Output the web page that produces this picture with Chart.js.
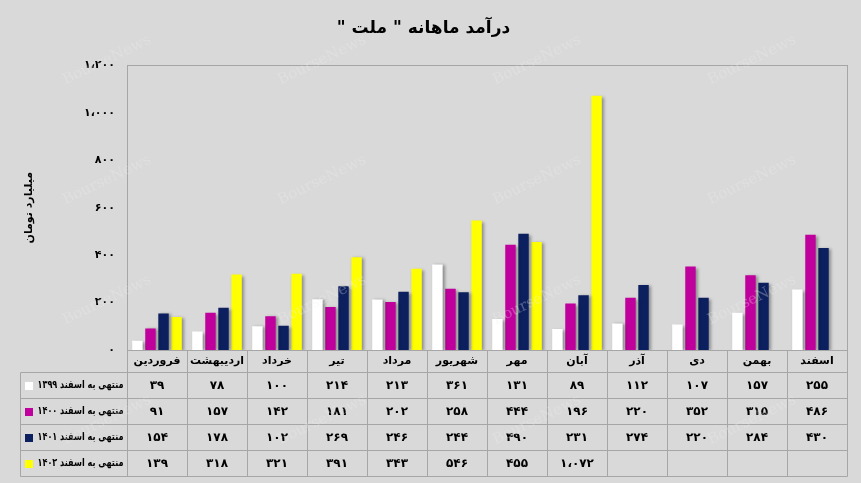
<!DOCTYPE html>
<html lang="fa">
<head>
<meta charset="utf-8">
<script src="https://cdn.jsdelivr.net/npm/chart.js@4.4.1/dist/chart.umd.min.js"></script>
<style>
  html, body { margin: 0; padding: 0; background: #d9d9d9; }
  #wrap { width: 861px; height: 483px; }
</style>
</head>
<body>
<div id="wrap"><canvas id="incomeChart" dir="rtl"></canvas></div>
<script>
// monthly income of Bank Mellat, billion tomans
const months = ['فروردین', 'اردیبهشت', 'خرداد', 'تیر', 'مرداد', 'شهریور', 'مهر', 'آبان', 'آذر', 'دی', 'بهمن', 'اسفند'];
const seriesNames = ['منتهی به اسفند ۱۳۹۹', 'منتهی به اسفند ۱۴۰۰', 'منتهی به اسفند ۱۴۰۱', 'منتهی به اسفند ۱۴۰۲'];
const values1399 = [39, 78, 100, 214, 213, 361, 131, 89, 112, 107, 157, 255];
const values1400 = [91, 157, 142, 181, 202, 258, 444, 196, 220, 352, 315, 486];
const values1401 = [154, 178, 102, 269, 246, 244, 490, 231, 274, 220, 284, 430];
const values1402 = [139, 318, 321, 391, 343, 546, 455, 1072, null, null, null, null];
const yTicks = [0, 200, 400, 600, 800, 1000, 1200];

const seriesValues = [values1399, values1400, values1401, values1402];
const seriesColors = ['#ffffff', '#c0009c', '#0c1f5e', '#ffff00'];
const FONT = '"DejaVu Sans", sans-serif';

const faDigits = '۰۱۲۳۴۵۶۷۸۹';
const toFa = (n) => {
  let s = String(n).replace(/\B(?=(\d{3})+(?!\d))/g, '،');
  return s.replace(/\d/g, d => faDigits[d]);
};

// soft shadow under the bars like the excel picture
const barShadow = {
  id: 'barShadow',
  beforeDatasetsDraw(chart) {
    const c = chart.ctx;
    c.save();
    c.shadowColor = 'rgba(0,0,0,0.35)';
    c.shadowBlur = 3;
    c.shadowOffsetX = 2;
    c.shadowOffsetY = 1;
  },
  afterDatasetsDraw(chart) {
    chart.ctx.restore();
  }
};

// data table under the plot (category row + one row per series)
const dataTable = {
  id: 'dataTable',
  afterDraw(chart) {
    const ctx = chart.ctx;
    const a = chart.chartArea;
    const x = chart.scales.x;
    const left = Math.round(a.left) + 0.5, right = Math.round(a.right) + 0.5;
    const top = Math.round(a.top) + 0.5, bottom = Math.round(a.bottom) + 0.5;
    const headH = 22, rowH = 26, tableLeft = 20.5;
    const tableBottom = bottom + headH + rowH * seriesValues.length;
    const colW = (a.right - a.left) / months.length;

    ctx.save();
    ctx.direction = 'rtl';
    ctx.strokeStyle = '#a6a6a6';
    ctx.lineWidth = 1;

    // plot frame
    ctx.strokeRect(left, top, right - left, bottom - top);

    ctx.beginPath();
    for (let i = 0; i <= months.length; i++) {
      const xx = Math.round(a.left + i * colW) + 0.5;
      ctx.moveTo(xx, bottom);
      ctx.lineTo(xx, tableBottom);
    }
    ctx.moveTo(tableLeft, bottom + headH);
    ctx.lineTo(tableLeft, tableBottom);
    for (let r = 0; r <= seriesValues.length; r++) {
      const yy = bottom + headH + r * rowH;
      ctx.moveTo(tableLeft, yy);
      ctx.lineTo(right, yy);
    }
    ctx.stroke();

    ctx.fillStyle = '#000';
    ctx.textAlign = 'center';
    ctx.textBaseline = 'middle';
    ctx.font = 'bold 11px ' + FONT;
    months.forEach((m, i) => {
      ctx.fillText(m, x.getPixelForValue(i), bottom + headH / 2, colW - 6);
    });

    ctx.font = 'bold 12px ' + FONT;
    seriesValues.forEach((vals, r) => {
      const cy = bottom + headH + r * rowH + rowH / 2;
      vals.forEach((v, i) => {
        if (v === null) return;
        ctx.fillText(toFa(v), x.getPixelForValue(i), cy);
      });
    });

    // legend keys in the first column
    ctx.font = 'bold 11px ' + FONT;
    ctx.textAlign = 'right';
    seriesNames.forEach((name, r) => {
      const cy = bottom + headH + r * rowH + rowH / 2;
      ctx.fillStyle = seriesColors[r];
      ctx.fillRect(25, Math.round(cy) - 4, 8, 8);
      ctx.fillStyle = '#000';
      ctx.fillText(name, left - 4, cy, 86);
    });

    // faint watermark
    ctx.font = '15px "DejaVu Serif", serif';
    ctx.fillStyle = 'rgba(240,240,240,0.3)';
    ctx.textAlign = 'center';
    ctx.direction = 'ltr';
    for (let wx = 107; wx < 861; wx += 215) {
      for (let wy = 60; wy < 483; wy += 120) {
        ctx.save();
        ctx.translate(wx, wy);
        ctx.rotate(-0.45);
        ctx.fillText('BourseNews', 0, 0);
        ctx.restore();
      }
    }
    ctx.restore();
  }
};

const ctx = document.getElementById('incomeChart').getContext('2d');
const incomeChart = new Chart(ctx, {
  type: 'bar',
  data: {
    labels: months,
    datasets: seriesValues.map((vals, i) => ({
      label: seriesNames[i],
      data: vals,
      backgroundColor: seriesColors[i],
      borderWidth: 0,
      categoryPercentage: 0.87,
      barPercentage: 0.8
    }))
  },
  options: {
    responsive: true,
    maintainAspectRatio: false,
    animation: false,
    layout: { padding: { left: 0, right: 14, top: 0, bottom: 133 } },
    plugins: {
      legend: { display: false },
      tooltip: { enabled: false },
      title: {
        display: true,
        text: 'درآمد ماهانه " ملت "',
        color: '#000',
        font: { family: FONT, size: 17, weight: 'bold' },
        padding: { top: 18, bottom: 27 }
      }
    },
    scales: {
      x: { display: false },
      y: {
        min: 0,
        max: 1200,
        afterBuildTicks: (s) => { s.ticks = yTicks.map(v => ({ value: v })); },
        afterFit: (s) => { s.width = 127; },
        grid: { display: false, drawTicks: false, tickLength: 0 },
        border: { display: false },
        ticks: {
          padding: 12,
          color: '#000',
          font: { family: FONT, size: 11, weight: 'bold' },
          callback: (v) => toFa(v)
        },
        title: {
          display: true,
          text: 'میلیارد تومان',
          color: '#000',
          font: { family: FONT, size: 11, weight: 'bold' },
          padding: { top: 23, bottom: 0 }
        }
      }
    }
  },
  plugins: [barShadow, dataTable]
});
</script>
</body>
</html>
